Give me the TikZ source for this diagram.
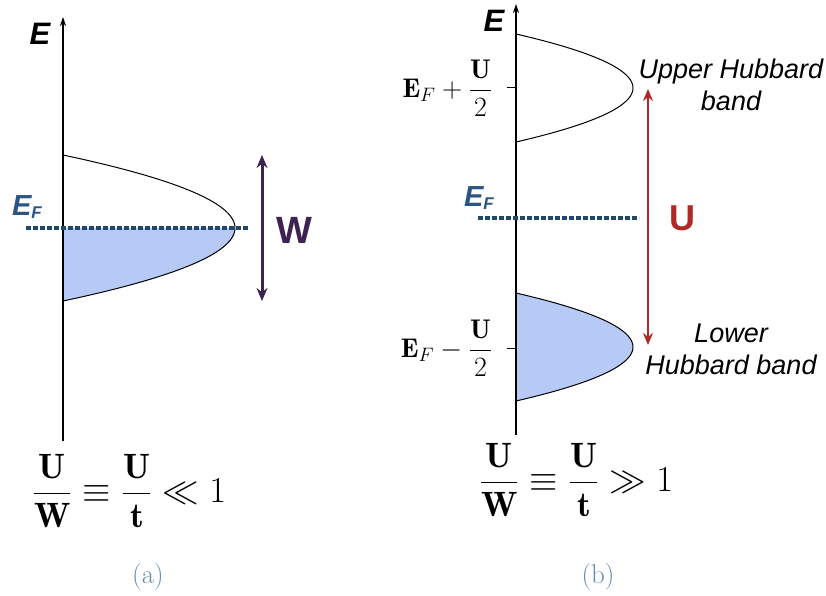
\documentclass[tikz,border=0pt]{standalone}
\usepackage{graphicx}
\usepackage{fontspec}
\usepackage{amsmath}
\newfontfamily\arial{Liberation Sans}
\usetikzlibrary{arrows.meta}
\definecolor{bandfill}{RGB}{182,202,245}
\definecolor{efline}{RGB}{32,72,108}
\definecolor{eflabel}{RGB}{45,85,130}
\definecolor{wcol}{RGB}{62,34,82}
\definecolor{ucol}{RGB}{176,40,40}
\definecolor{capcol}{RGB}{100,140,180}
\tikzset{
  axisline/.style={line width=1.3pt,-{Stealth[length=9pt,width=6pt]}},
  bandline/.style={line width=1pt},
  efdash/.style={efline,line width=3.5pt,dash pattern=on 5pt off 2pt},
  elabel/.style={font=\arial\bfseries\itshape\fontsize{31}{34}\selectfont},
  eflab/.style={text=eflabel,font=\arial\bfseries\itshape\fontsize{29}{32}\selectfont},
  bandtext/.style={font=\arial\itshape\fontsize{27}{32}\selectfont,align=center},
  ticklab/.style={font=\fontsize{20}{24}\selectfont,anchor=east},
  formula/.style={font=\fontsize{20}{24}\selectfont},
  caption/.style={text=capcol,font=\fontsize{27}{30}\selectfont},
  tick/.style={line width=1pt}
}
\begin{document}
\begin{tikzpicture}[x=1pt,y=-1pt]
\useasboundingbox (0,0) rectangle (826,596);
% ---------- panel (a) ----------
\coordinate (a0) at (63,441);
\coordinate (a1) at (63,17);
\fill[bandfill] (63,228) -- plot[domain=0:1,samples=40] ({63+172*(1-\x*\x)},{228+73*\x}) -- cycle;
\draw[bandline] plot[domain=-1:1,samples=80] ({63+172*(1-\x*\x)},{228+73*\x});
\draw[axisline] (a0) -- (a1);
\node[elabel] (aE) at (40,34) {E};
\coordinate (aef0) at (26,228);
\coordinate (aef1) at (249,228);
\draw[efdash] (aef0) -- (aef1);
\node[eflab] (aEF) at (27,207) {E\raisebox{-0.25ex}{\fontsize{17}{19}\selectfont F}};
\coordinate (w0) at (262,155);
\coordinate (w1) at (262,301);
\draw[wcol,line width=3pt,{Stealth[length=13pt,width=11pt]}-{Stealth[length=13pt,width=11pt]}] (w0) -- (w1);
\node[text=wcol,font=\arial\bfseries\fontsize{38}{40}\selectfont] (W) at (294,230) {W};
\node[formula] (fa) at (129,491) {\scalebox{1.76}{$\displaystyle\frac{\mathbf{U}}{\mathbf{W}}\equiv\frac{\mathbf{U}}{\mathbf{t}}\ll 1$}};
\node[caption] (ca) at (148,577) {(a)};
% ---------- panel (b) ----------
\coordinate (b0) at (516,435);
\coordinate (b1) at (516,4);
\draw[bandline] plot[domain=-1:1,samples=80] ({516+117*(1-\x*\x)},{88+54*\x});
\fill[bandfill] plot[domain=-1:1,samples=80] ({516+117*(1-\x*\x)},{347+54*\x}) -- cycle;
\draw[bandline] plot[domain=-1:1,samples=80] ({516+117*(1-\x*\x)},{347+54*\x});
\draw[axisline] (b0) -- (b1);
\node[elabel] (bE) at (494,21) {E};
\coordinate (t1a) at (507,88);
\coordinate (t1b) at (516,88);
\draw[tick] (t1a) -- (t1b);
\coordinate (t2a) at (507,348);
\coordinate (t2b) at (516,348);
\draw[tick] (t2a) -- (t2b);
\node[ticklab] (lp) at (496,88) {\scalebox{1.35}{$\mathbf{E}_F+\dfrac{\mathbf{U}}{2}$}};
\node[ticklab] (lm) at (496,348) {\scalebox{1.35}{$\mathbf{E}_F-\dfrac{\mathbf{U}}{2}$}};
\coordinate (bef0) at (478,218);
\coordinate (bef1) at (639,218);
\draw[efdash] (bef0) -- (bef1);
\node[eflab] (bEF) at (479,198) {E\raisebox{-0.25ex}{\fontsize{17}{19}\selectfont F}};
\coordinate (u0) at (648,89);
\coordinate (u1) at (648,345);
\draw[ucol,line width=2.5pt,{Stealth[length=12pt,width=10pt]}-{Stealth[length=12pt,width=10pt]}] (u0) -- (u1);
\node[text=ucol,font=\arial\bfseries\fontsize{36}{40}\selectfont] (U) at (682,218) {U};
\node[bandtext] (ub) at (731,85) {Upper Hubbard\\band};
\node[bandtext] (lb) at (731,349) {Lower\\Hubbard band};
\node[formula] (fb) at (576,480) {\scalebox{1.76}{$\displaystyle\frac{\mathbf{U}}{\mathbf{W}}\equiv\frac{\mathbf{U}}{\mathbf{t}}\gg 1$}};
\node[caption] (cb) at (598,577) {(b)};
\end{tikzpicture}
\end{document}
